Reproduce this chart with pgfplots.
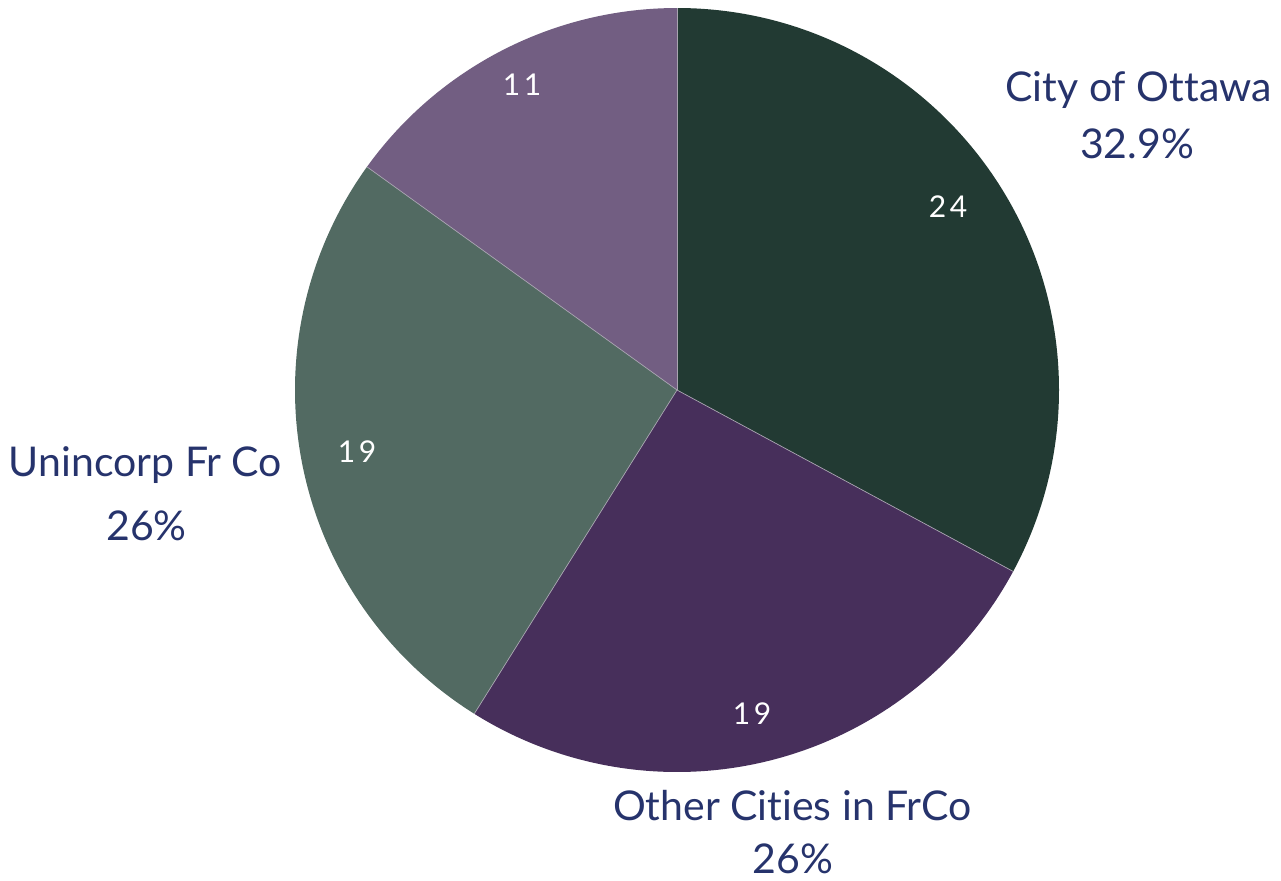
\documentclass[border=0pt]{standalone}
\usepackage{pgfplots}
\pgfplotsset{compat=1.18}
\usepackage{fontspec}
\setmainfont{Lato}[Ligatures=NoCommon]
\newfontfamily\numfont[LetterSpace=12]{Lato}

\definecolor{ottawa}{HTML}{223A33}
\definecolor{othercities}{HTML}{472F5B}
\definecolor{unincorp}{HTML}{526A62}
\definecolor{eleven}{HTML}{725E82}
\definecolor{labnavy}{HTML}{26336C}
\definecolor{sep}{HTML}{A8A4B0}

\begin{document}
\begin{tikzpicture}
\begin{axis}[
  hide axis, scale only axis,
  width=640.5pt, height=440pt,
  xmin=0, xmax=1281, ymin=0, ymax=880,
  y dir=reverse, clip=false,
]
\path (axis cs:0,0) rectangle (axis cs:1281,880);
% slices, clockwise from the top
\pgfplotsextra{
  \pgfmathsetmacro\total{24+19+19+11}
  \gdef\curang{90}
  \foreach \v/\c in {24/ottawa,19/othercities,19/unincorp,11/eleven}{
    \pgfmathsetmacro\a{\curang}
    \pgfmathsetmacro\b{\curang-\v/\total*360}
    \fill[\c] (axis cs:677,390) -- ++(\a:191pt)
      arc[start angle=\a, end angle=\b, radius=191pt] -- cycle;
    \xdef\curang{\b}
  }
  \gdef\curang{90}
  \foreach \v in {24,19,19,11}{
    \draw[sep, line width=0.35pt] (axis cs:677,390) -- ++(\curang:191pt);
    \pgfmathsetmacro\b{\curang-\v/\total*360}
    \xdef\curang{\b}
  }
}
% values inside
\begin{scope}[every node/.style={white, anchor=base, inner sep=0pt, font=\numfont\fontsize{15}{18}\selectfont}]
\node at (axis cs:948,217) {24};
\node at (axis cs:752,724) {19};
\node at (axis cs:357,462) {19};
\node at (axis cs:522,95) {11};
\end{scope}
% outer labels
\begin{scope}[every node/.style={labnavy, anchor=base, inner sep=0pt, font=\fontsize{20.5}{24}\selectfont}]
\node at (axis cs:1138.5,101) {City of Ottawa};
\node at (axis cs:1137,158) {32.9\%};
\node at (axis cs:145.5,476) {Unincorp Fr Co};
\node at (axis cs:146.5,540) {26\%};
\node at (axis cs:792.5,820) {Other Cities in FrCo};
\node at (axis cs:793,873) {26\%};
\end{scope}
\end{axis}
\end{tikzpicture}
\end{document}
